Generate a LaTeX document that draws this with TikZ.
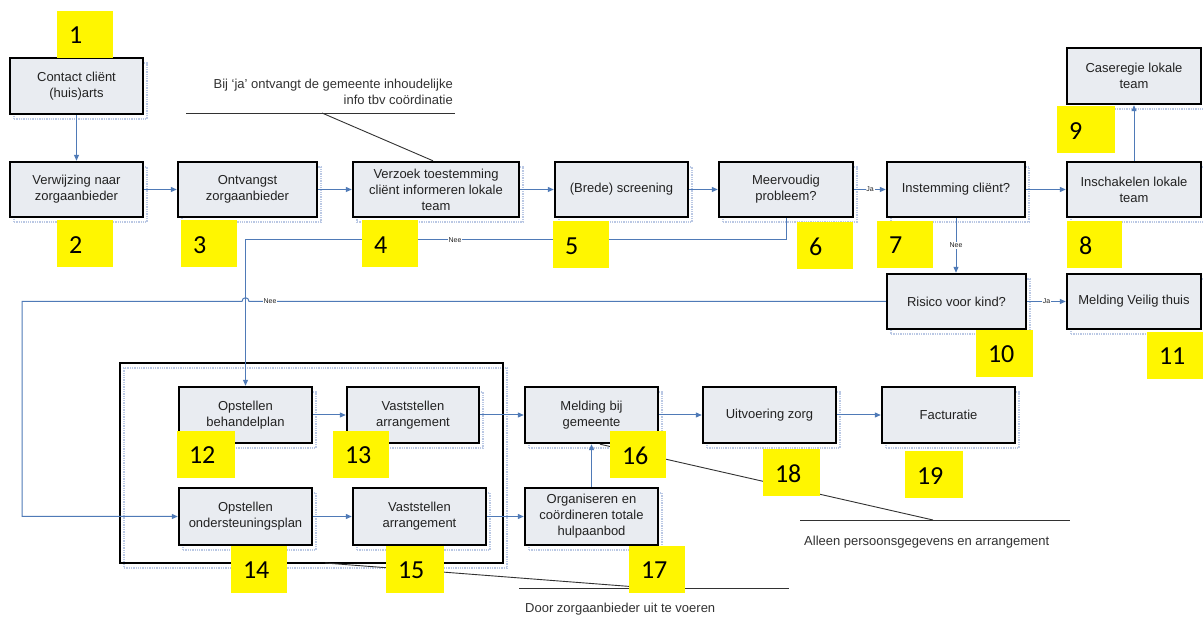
\documentclass[tikz,border=0pt]{standalone}
\usepackage{fontspec}
\setmainfont{Liberation Sans}
\newfontfamily\numfont{Carlito}
\usetikzlibrary{calc,arrows.meta}

\definecolor{boxfill}{RGB}{233,236,241}
\definecolor{flowblue}{RGB}{79,122,183}
\definecolor{shadeblue}{RGB}{186,200,228}
\definecolor{tagyellow}{RGB}{255,246,0}
\definecolor{ink}{RGB}{34,34,34}
\definecolor{noteink}{RGB}{50,50,50}

\tikzset{
  dotshadow/.style={preaction={draw=shadeblue, densely dotted, line width=1.3pt,
      transform canvas={xshift=4pt,yshift=-5pt}}},
  box/.style={draw=black, line width=2.4pt, fill=boxfill, text=ink,
      font=\fontsize{13}{16}\selectfont, align=center, inner sep=1pt,
      minimum height=56pt, dotshadow},
  group/.style={draw=black, line width=2.4pt, dotshadow},
  tag/.style={fill=tagyellow, minimum height=47pt, inner sep=0pt},
  num/.style={anchor=west, font=\numfont\fontsize{26}{26}\selectfont, text=black, inner sep=0pt},
  flow/.style={draw=flowblue, line width=1pt, -{Triangle[length=6pt,width=5pt]}},
  lbl/.style={font=\fontsize{7}{7}\selectfont, text=ink, fill=white, inner sep=0.8pt},
  note/.style={font=\fontsize{13}{16}\selectfont, text=noteink, inner sep=0pt},
  noteline/.style={draw=noteink, line width=0.9pt}
}

% yellow number tag: name, centre x, centre y, width, number
\newcommand\tagat[5]{%
  \node[tag, minimum width=#4pt] (t#1) at (#2,#3) {};
  \node[num] (n#1) at ($(t#1.west)+(12,1)$) {#5};}

\begin{document}
\begin{tikzpicture}[x=1pt,y=-1pt]
\useasboundingbox (0,0) rectangle (1203,617);
\fill[white] (0,0) rectangle (1203,617);

% frame around the care provider's steps
\node[group, minimum width=383pt, minimum height=200pt] (grp) at (311.5,463) {};

% process steps
\node[box, minimum width=133pt] (b1) at (76.5,86) {Contact cliënt\\(huis)arts};
\node[box, minimum width=133pt, minimum height=55pt] (b2) at (76.5,189.5) {Verwijzing naar\\zorgaanbieder};
\node[box, minimum width=139pt, minimum height=55pt] (b3) at (247.5,189.5) {Ontvangst\\zorgaanbieder};
\node[box, minimum width=166pt, minimum height=55pt] (b4) at (436,189.5) {Verzoek toestemming\\cliënt informeren lokale\\team};
\node[box, minimum width=133pt, minimum height=55pt] (b5) at (621.5,189.5) {(Brede) screening};
\node[box, minimum width=134pt, minimum height=55pt] (b6) at (786,189.5) {Meervoudig\\probleem?};
\node[box, minimum width=138pt, minimum height=55pt] (b7) at (956,189.5) {Instemming cliënt?};
\node[box, minimum width=134pt, minimum height=55pt] (b8) at (1134,189.5) {Inschakelen lokale\\team};
\node[box, minimum width=134pt] (b9) at (1134,76) {Caseregie lokale\\team};
\node[box, minimum width=139pt, minimum height=55pt] (b10) at (956.5,301.5) {Risico voor kind?};
\node[box, minimum width=134pt, minimum height=55pt] (b11) at (1134,301.5) {Melding Veilig thuis};
\node[box, minimum width=133pt] (b12) at (245.5,415) {Opstellen\\behandelplan};
\node[box, minimum width=132pt] (b13) at (413,415) {Vaststellen\\arrangement};
\node[box, minimum width=133pt, minimum height=57pt] (b14) at (245.5,516.5) {Opstellen\\ondersteuningsplan};
\node[box, minimum width=133pt, minimum height=57pt] (b15) at (419.5,516.5) {Vaststellen\\arrangement};
\node[box, minimum width=133pt] (b16) at (591.5,415) {Melding bij\\gemeente};
\node[box, minimum width=133pt, minimum height=57pt] (b17) at (591.5,516.5) {Organiseren en\\coördineren totale\\hulpaanbod};
\node[box, minimum width=133pt] (b18) at (769.5,415) {Uitvoering zorg};
\node[box, minimum width=133pt] (b19) at (948.5,415) {Facturatie};

% main flow
\draw[flow] (b1) -- (b2);
\draw[flow] (b2) -- (b3);
\draw[flow] (b3) -- (b4);
\draw[flow] (b4) -- (b5);
\draw[flow] (b5) -- (b6);
\draw[flow] (b6) -- node[lbl] (ja6) {Ja} (b7);
\draw[flow] (b7) -- (b8);
\draw[flow] (b8) -- (b9);
\draw[flow] (b7.south) -- node[lbl] (nee7) {Nee} (b7.south |- b10.north);
\draw[flow] (b10) -- node[lbl] (ja10) {Ja} (b11);
\draw[flow] (b12) -- (b13);
\draw[flow] (b14) -- (b15);
\draw[flow] (b13) -- (b16);
\draw[flow] (b15) -- (b17);
\draw[flow] (b17) -- (b16);
\draw[flow] (b16) -- (b18);
\draw[flow] (b18) -- (b19);

% "Nee" from Risico voor kind? to the support plan, hopping over the other line
\coordinate (hop) at (b12.north |- b10.west);
\coordinate (r10) at (22,0);
\draw[flow] (b10.west) -- ($(hop)+(3.5,0)$)
  .. controls ($(hop)+(3.5,-5)$) and ($(hop)+(-3.5,-5)$) .. ($(hop)+(-3.5,0)$)
  -- (r10 |- b10.west) -- (r10 |- b14.west) -- (b14.west);
\node[lbl] (nee10) at (270,301) {Nee};

% "Nee" from Meervoudig probleem? to the treatment plan
\coordinate (r6) at (0,240);
\draw[flow] (b6.south) -- (b6.south |- r6) -- (b12.north |- r6) -- (b12.north);
\node[lbl] (nee6) at (455,240) {Nee};

% callout at step 4
\node[note, anchor=south east, align=right] (c4) at (453,105)
  {Bij ‘ja’ ontvangt de gemeente inhoudelijke\\info tbv coördinatie};
\coordinate (u4a) at (186,113);
\coordinate (u4b) at (455,113);
\coordinate (k4) at (322,113);
\draw[noteline] (u4a) -- (u4b);
\draw[noteline] (k4) -- ($(b4.north)+(-3,0)$);

% callout at step 16
\coordinate (u16a) at (800,520);
\coordinate (u16b) at (1070,520);
\coordinate (k16) at (933,520);
\draw[noteline] (u16a) -- (u16b);
\draw[noteline] (k16) -- ($(b16.south)+(8.5,0)$);
\node[note, anchor=north west] (c16) at (804,536) {Alleen persoonsgegevens en arrangement};

% callout below the frame
\coordinate (u17a) at (519,588);
\coordinate (u17b) at (789,588);
\coordinate (k17) at (650,588);
\coordinate (k14) at (325,563);
\draw[noteline] (u17a) -- (u17b);
\draw[noteline] (k17) -- (k14);
\node[note, anchor=north west] (c17) at (525,603) {Door zorgaanbieder uit te voeren};

% step numbers
\tagat{1}{85}{34.5}{56}{1}
\tagat{2}{85}{244}{56}{2}
\tagat{3}{209}{244}{56}{3}
\tagat{4}{390}{244}{56}{4}
\tagat{5}{581}{245}{56}{5}
\tagat{6}{825}{246}{56}{6}
\tagat{7}{905}{244.5}{56}{7}
\tagat{8}{1094.5}{244.5}{55}{8}
\tagat{9}{1086}{130}{58}{9}
\tagat{10}{1004.5}{353.5}{57}{10}
\tagat{11}{1175}{355.5}{56}{11}
\tagat{12}{206}{454.5}{58}{12}
\tagat{13}{361}{454.5}{56}{13}
\tagat{14}{259}{569}{56}{14}
\tagat{15}{415}{569}{58}{15}
\tagat{16}{638}{454.5}{56}{16}
\tagat{17}{657}{569}{56}{17}
\tagat{18}{791.5}{472.5}{57}{18}
\tagat{19}{934}{475}{58}{19}
\end{tikzpicture}
\end{document}
